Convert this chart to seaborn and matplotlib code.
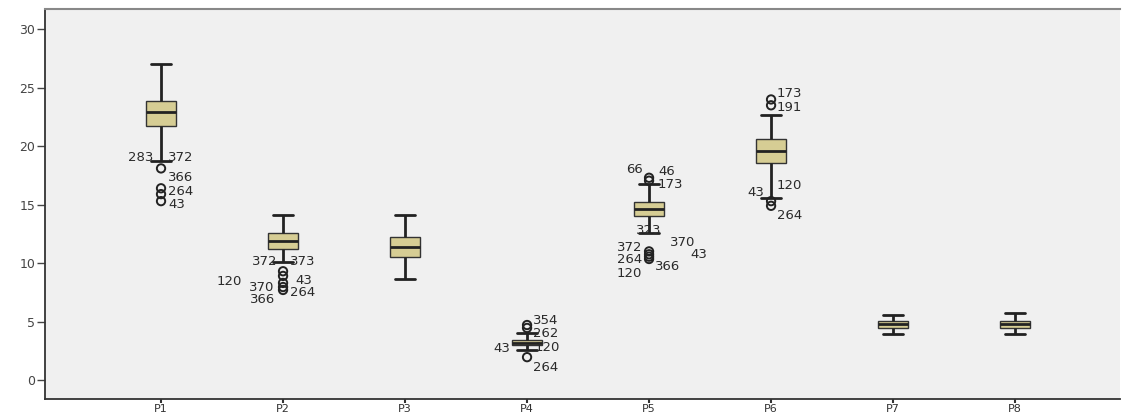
import pandas as pd
import numpy as np
import matplotlib.pyplot as plt
import seaborn as sns

# DATA

names = ['P1', 'P2', 'P3', 'P4', 'P5', 'P6', 'P7', 'P8']
whis_lo = [18.7, 10.1, 8.6, 2.6, 12.6, 15.6, 3.9, 3.9]
q1 = [21.7, 11.2, 10.5, 3.0, 14.0, 18.6, 4.45, 4.45]
med = [22.9, 11.9, 11.4, 3.2, 14.6, 19.6, 4.78, 4.8]
q3 = [23.9, 12.6, 12.2, 3.4, 15.2, 20.6, 5.05, 5.05]
whis_hi = [27.0, 14.1, 14.1, 4.0, 16.8, 22.7, 5.6, 5.7]

out_var = ['P1'] * 4 + ['P2'] * 5 + ['P4'] * 3 + ['P5'] * 6 + ['P6'] * 4
out_val = [18.1, 16.4, 15.9, 15.3,
           9.3, 8.9, 8.3, 7.95, 7.7,
           4.7, 4.45, 1.95,
           17.3, 17.05, 11.0, 10.75, 10.55, 10.35,
           24.0, 23.5, 15.3, 14.9]

lab_var = ['P1'] * 5 + ['P2'] * 7 + ['P4'] * 5 + ['P5'] * 10 + ['P6'] * 5
lab_text = ['283', '372', '366', '264', '43',
            '372', '373', '43', '120', '370', '264', '366',
            '354', '262', '43', '120', '264',
            '66', '46', '173', '323', '370', '372', '43', '264', '366', '120',
            '173', '191', '120', '43', '264']
lab_val = [19.0, 19.0, 17.3, 16.1, 15.05,
           10.1, 10.1, 8.55, 8.4, 7.95, 7.45, 6.9,
           5.1, 3.95, 2.65, 2.75, 1.1,
           18.0, 17.8, 16.7, 12.8, 11.8, 11.3, 10.7, 10.3, 9.75, 9.15,
           24.55, 23.3, 16.6, 16.0, 14.1]
# horizontal offset of each label from the box centre, pixels
lab_dx = [-8, 7, 7, 7, 7,
          -6, 7, 12, -41, -9, 7, -8,
          6, 6, -17, 8, 6,
          -6, 9, 9, 0, 21, -7, 41, -7, 6, -7,
          6, 6, 6, -7, 6]

# long form table: the five numbers of each box
rows = []
for i, n in enumerate(names):
    for v in (whis_lo[i], q1[i], med[i], q3[i], whis_hi[i]):
        rows.append({'var': n, 'value': v})
df = pd.DataFrame(rows)
outliers = pd.DataFrame({'var': out_var, 'value': out_val})

# PLOTTING

sns.set_style('ticks')
plt.rcParams['font.family'] = ['DejaVu Sans']

fig = plt.figure(figsize=(11.23, 4.18), dpi=100)
ax = fig.add_axes([45 / 1123, 19 / 418, 1075 / 1123, 390 / 418])
ax.set_facecolor('#f0f0f0')

line_c = '#222222'
sns.boxplot(data=df, x='var', y='value', order=names, whis=(0, 100),
            width=0.25, showfliers=False, color='#d6cd94', saturation=1,
            linecolor=line_c, linewidth=1.0, ax=ax, capwidths=0.17,
            whiskerprops=dict(linewidth=2.0, color=line_c),
            capprops=dict(linewidth=2.0, color=line_c),
            medianprops=dict(linewidth=2.0, color=line_c),
            boxprops=dict(edgecolor='#333333'))

sns.stripplot(data=outliers, x='var', y='value', order=names, jitter=False,
              marker='o', s=6, facecolor='none', edgecolor='#222222',
              linewidth=1.4, ax=ax)

for v, t, y, dx in zip(lab_var, lab_text, lab_val, lab_dx):
    ha = 'left' if dx > 0 else ('right' if dx < 0 else 'center')
    ax.annotate(t, xy=(names.index(v), y), xytext=(dx, 0),
                textcoords='offset pixels', ha=ha, va='center',
                fontsize=9.5, color='#2a2a2a')

ax.set_xlim(-0.951, 7.86)
ax.set_ylim(-1.63, 31.74)
ax.set_yticks([0, 5, 10, 15, 20, 25, 30])
ax.set_xlabel('')
ax.set_ylabel('')

ax.tick_params(axis='y', length=6, width=1, colors='#444444', labelsize=9, pad=1)
ax.tick_params(axis='x', length=3, width=1.5, colors='#333333', labelsize=8, pad=0.5)

for s in ['left', 'bottom']:
    ax.spines[s].set_color('#333333')
    ax.spines[s].set_linewidth(1.3)
ax.spines['top'].set_visible(True)
ax.spines['top'].set_color('#888888')
ax.spines['top'].set_linewidth(1.5)
ax.spines['right'].set_visible(False)

fig.savefig('out.png', dpi=100)
